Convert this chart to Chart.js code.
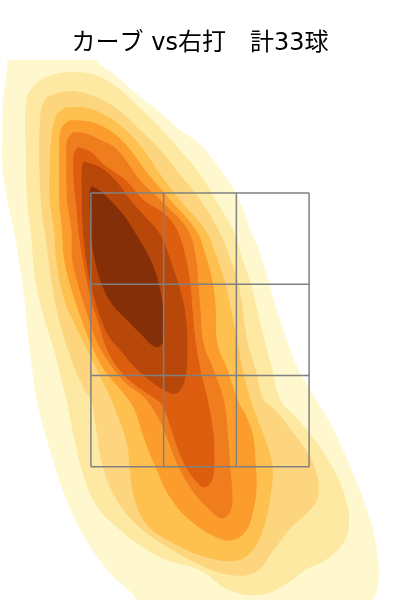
<!DOCTYPE html>
<html>
<head>
<meta charset="utf-8">
<script src="https://cdn.jsdelivr.net/npm/chart.js@4/dist/chart.umd.min.js"></script>
<style>
  body { margin: 0; background: #fff; }
</style>
</head>
<body>
<canvas id="grafica" width="400" height="600"></canvas>
<script>
// Título
const titulo = "カーブ vs右打　計33球";

// Zona de strike: 0 = centro del plato, 1 unidad = 1 casilla
const zonaX = [-1.5, -0.5, 0.5, 1.5];
const zonaY = [0, 1, 2, 3];

// Curvas de nivel de la densidad, de la más externa a la más interna
const banda1 = [[-2.67,4.68],[-1.38,4.68],[-1.42,4.46],[-1.14,4.27],[-0.83,4.05],[-0.55,3.88],[-0.28,3.69],[0,3.53],[0.28,3.25],[0.51,2.96],[0.69,2.59],[0.80,2.38],[0.92,2.08],[1.06,1.69],[1.20,1.36],[1.35,1.06],[1.51,0.84],[1.65,0.66],[1.83,0.41],[2.06,0],[2.24,-0.36],[2.38,-0.72],[2.45,-1.09],[2.44,-1.31],[2.38,-1.46],[2.34,-1.68],[-0.89,-1.68],[-0.87,-1.46],[-1.24,-1.16],[-1.56,-0.80],[-1.83,-0.36],[-2.06,0.19],[-2.24,0.73],[-2.31,1.14],[-2.37,1.50],[-2.41,1.86],[-2.48,2.23],[-2.53,2.49],[-2.64,2.92],[-2.71,3.28],[-2.71,3.66],[-2.70,4.02],[-2.64,4.46]];
const banda2 = [[-1.93,4.31],[-1.65,4.32],[-1.38,4.27],[-1.10,4.13],[-0.83,3.93],[-0.55,3.71],[-0.28,3.47],[0,3.20],[0.21,2.92],[0.45,2.59],[0.56,2.32],[0.69,2.01],[0.78,1.72],[0.89,1.36],[0.99,1.06],[1.10,0.73],[1.35,0.51],[1.62,0.24],[1.83,-0.03],[2.00,-0.36],[2.04,-0.64],[1.95,-0.85],[1.72,-1.02],[1.44,-1.13],[1.17,-1.29],[0.83,-1.40],[0.41,-1.35],[0,-1.13],[-0.45,-1.02],[-0.78,-0.88],[-1.14,-0.66],[-1.38,-0.47],[-1.56,-0.18],[-1.69,0.19],[-1.83,0.73],[-1.90,0.95],[-2.00,1.28],[-2.13,1.61],[-2.26,2.05],[-2.31,2.49],[-2.37,2.92],[-2.39,3.47],[-2.38,4.02],[-2.27,4.18],[-2.13,4.26]];
const banda3 = [[-1.93,4.10],[-1.72,4.11],[-1.44,4.05],[-1.13,3.91],[-0.83,3.69],[-0.55,3.47],[-0.28,3.20],[0,2.92],[0.25,2.59],[0.39,2.32],[0.52,2.01],[0.65,1.36],[0.76,1.06],[0.87,0.73],[1.03,0.62],[1.24,0.41],[1.44,0.19],[1.58,-0.03],[1.62,-0.31],[1.51,-0.47],[1.24,-0.67],[0.99,-0.93],[0.76,-1.15],[0.41,-1.18],[0,-1.07],[-0.41,-0.89],[-0.83,-0.66],[-1.14,-0.36],[-1.33,0],[-1.42,0.41],[-1.49,0.73],[-1.58,0.84],[-1.76,1.17],[-1.93,1.61],[-2.04,2.05],[-2.11,2.49],[-2.17,2.81],[-2.20,3.25],[-2.20,3.69],[-2.13,4.02]];
const banda4 = [[-1.86,3.93],[-1.58,3.93],[-1.31,3.85],[-1.03,3.69],[-0.78,3.47],[-0.55,3.20],[-0.28,2.92],[0.07,2.59],[0.21,2.32],[0.34,2.01],[0.51,1.36],[0.58,1.06],[0.69,0.73],[0.76,0.57],[0.89,0.30],[0.99,0],[0.96,-0.33],[0.87,-0.66],[0.72,-0.91],[0.51,-1.02],[0.10,-0.99],[-0.37,-0.83],[-0.72,-0.64],[-0.89,-0.36],[-0.96,-0.03],[-1.00,0.26],[-1.21,0.73],[-1.38,1.01],[-1.54,1.28],[-1.68,1.50],[-1.86,1.83],[-1.97,2.27],[-2.00,2.59],[-2.06,2.92],[-2.06,3.25],[-2.04,3.58],[-1.97,3.85]];
const banda5 = [[-1.80,3.79],[-1.65,3.79],[-1.44,3.76],[-1.17,3.64],[-0.96,3.47],[-0.76,3.25],[-0.41,2.92],[-0.06,2.59],[0.07,2.32],[0.17,2.01],[0.21,1.72],[0.23,1.36],[0.37,1.06],[0.51,0.73],[0.62,0.57],[0.72,0.35],[0.76,0.02],[0.77,-0.25],[0.72,-0.50],[0.62,-0.71],[0.44,-0.80],[0.23,-0.77],[-0.14,-0.58],[-0.41,-0.33],[-0.59,-0.03],[-0.76,0.30],[-0.89,0.62],[-1.03,0.79],[-1.31,1.06],[-1.49,1.34],[-1.62,1.61],[-1.76,1.94],[-1.86,2.27],[-1.89,2.59],[-1.93,2.92],[-1.93,3.14],[-1.93,3.47],[-1.90,3.71]];
const banda6 = [[-1.75,3.66],[-1.58,3.65],[-1.38,3.58],[-1.14,3.47],[-0.83,3.14],[-0.55,2.92],[-0.17,2.59],[-0.06,2.27],[-0.03,2.01],[0,1.72],[0.04,1.36],[0.18,1.06],[0.32,0.73],[0.39,0.24],[0.41,-0.03],[0.44,-0.31],[0.41,-0.49],[0.30,-0.56],[0.11,-0.45],[-0.11,-0.25],[-0.30,0.02],[-0.44,0.30],[-0.55,0.51],[-0.76,0.76],[-1.03,0.93],[-1.27,1.17],[-1.42,1.39],[-1.54,1.66],[-1.65,1.94],[-1.75,2.27],[-1.76,2.59],[-1.82,2.92],[-1.83,3.36],[-1.82,3.58]];
const banda7 = [[-1.68,3.50],[-1.51,3.45],[-1.33,3.31],[-1.03,3.14],[-0.78,2.92],[-0.48,2.76],[-0.32,2.59],[-0.21,2.32],[-0.14,2.01],[-0.11,1.72],[-0.07,1.39],[0,1.06],[0.10,0.73],[0.17,0.41],[0.19,0.13],[0.17,-0.12],[0.07,-0.22],[-0.07,-0.14],[-0.25,0.10],[-0.39,0.41],[-0.52,0.68],[-0.69,0.79],[-0.89,0.90],[-1.10,1.06],[-1.27,1.28],[-1.38,1.55],[-1.49,1.83],[-1.58,2.16],[-1.65,2.49],[-1.69,2.81],[-1.73,3.14],[-1.73,3.42]];
const banda8 = [[-1.60,3.34],[-1.38,3.28],[-1.17,3.14],[-0.96,2.92],[-0.76,2.74],[-0.55,2.54],[-0.39,2.21],[-0.28,1.94],[-0.21,1.69],[-0.18,1.31],[-0.21,0.97],[-0.32,0.81],[-0.48,0.84],[-0.69,0.95],[-0.89,1.09],[-1.07,1.26],[-1.24,1.42],[-1.35,1.61],[-1.44,1.83],[-1.51,2.05],[-1.56,2.27],[-1.61,2.67],[-1.62,3.03],[-1.62,3.25]];
const banda9 = [[-1.49,3.07],[-1.38,3.02],[-1.24,2.92],[-1.05,2.75],[-0.91,2.58],[-0.76,2.38],[-0.63,2.16],[-0.54,1.88],[-0.50,1.61],[-0.52,1.36],[-0.62,1.32],[-0.80,1.45],[-1.00,1.61],[-1.20,1.78],[-1.33,1.97],[-1.43,2.23],[-1.49,2.54],[-1.51,2.87],[-1.51,3.01]];

const colores = ['#FFF8CE', '#FEE9A3', '#FDD57F', '#FEC04E', '#FB9C2C', '#EF7D1E', '#DC5E0E', '#B8470A', '#842F08'];

const bandas = [banda1, banda2, banda3, banda4, banda5, banda6, banda7, banda8, banda9];

const datasets = [];

// Líneas de la zona (van primero para quedar encima)
const lineaZona = (puntos) => ({
    data: puntos,
    showLine: true,
    borderColor: '#808080',
    borderWidth: 1.5,
    pointRadius: 0,
    fill: false,
});
zonaX.forEach(x => datasets.push(lineaZona([{x: x, y: zonaY[0]}, {x: x, y: zonaY[zonaY.length - 1]}])));
zonaY.forEach(y => datasets.push(lineaZona([{x: zonaX[0], y: y}, {x: zonaX[zonaX.length - 1], y: y}])));

// Bandas: la más interna primero para que se dibuje encima
for (let i = bandas.length - 1; i >= 0; i--) {
    const pts = bandas[i].concat([bandas[i][0]]);
    datasets.push({
        data: pts.map(p => ({x: p[0], y: p[1]})),
        showLine: true,
        fill: 'shape',
        tension: 0.4,
        backgroundColor: colores[i],
        borderColor: colores[i],
        borderWidth: 1,
        pointRadius: 0,
    });
}

new Chart(document.querySelector("#grafica"), {
    type: 'scatter',
    data: { datasets: datasets },
    options: {
        responsive: false,
        animation: false,
        layout: { padding: 0 },
        plugins: {
            legend: { display: false },
            tooltip: { enabled: false },
            title: {
                display: true,
                text: titulo,
                color: '#000',
                font: { size: 24, weight: 'normal', family: "'DejaVu Sans', 'Noto Sans CJK JP', sans-serif" },
                padding: { top: 29, bottom: 2 },
            },
        },
        scales: {
            x: { type: 'linear', min: -2.75, max: 2.75, display: false },
            y: { type: 'linear', min: -1.46, max: 4.46, display: false },
        },
    },
});
</script>
</body>
</html>
